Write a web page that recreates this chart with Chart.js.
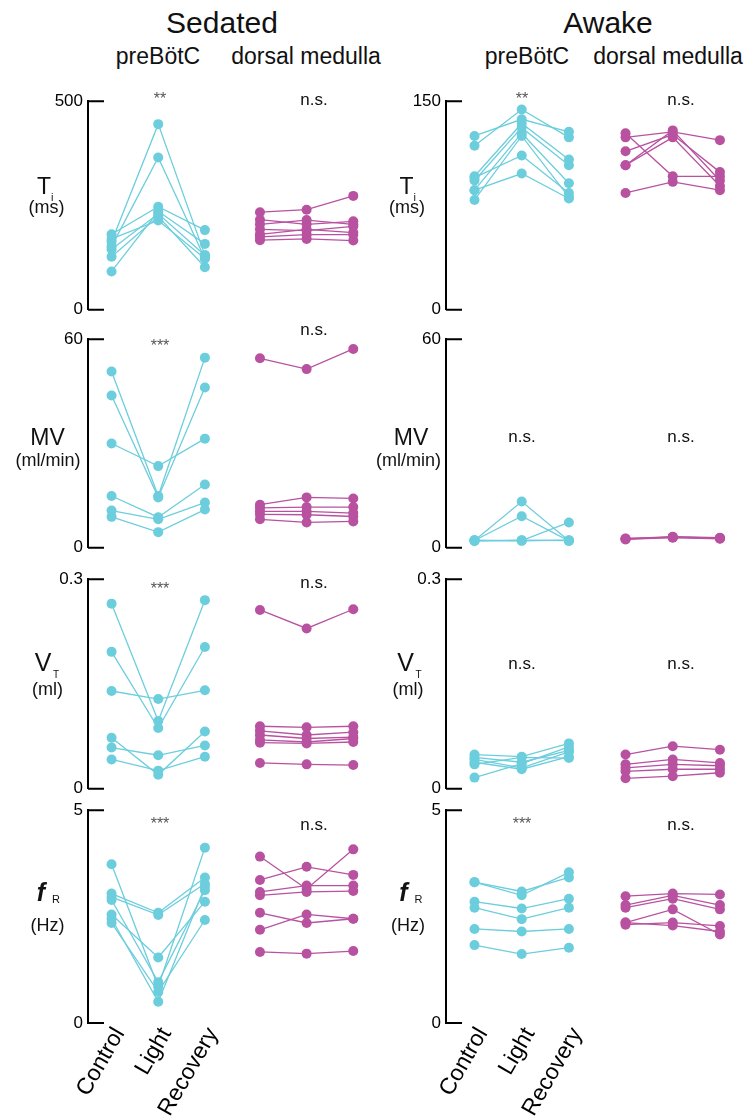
<!DOCTYPE html>
<html><head><meta charset="utf-8">
<script src="https://cdn.jsdelivr.net/npm/chart.js@4/dist/chart.umd.min.js"></script>
<style>
html,body{margin:0;padding:0;background:#fff;}
body{width:744px;height:1118px;position:relative;overflow:hidden;font-family:"Liberation Sans",Arial,Helvetica,sans-serif;}
.p{position:absolute;}
.t{position:absolute;white-space:nowrap;color:#111;}
</style></head><body>
<script>
// ---------- data ----------
const conditions = ['Control', 'Light', 'Recovery'];

// Sedated (one row per animal: Control, Light, Recovery)
const sedTiPre = [[163,445,131],[152,365,123],[92,236,158],[181,247,191],[127,224,102],[170,214,123],[145,230,131]];
const sedTiDm  = [[234,240,273],[216,205,212],[205,215,205],[193,190,200],[181,193,185],[175,180,180],[167,170,166]];
const sedMvPre = [[50.7,14.9,54.7],[43.8,14.5,46.1],[30.0,23.5,31.4],[14.9,8.8,18.2],[10.7,8.2,13.0],[8.9,4.5,11.0]];
const sedMvDm  = [[54.5,51.4,57.2],[12.4,14.5,14.2],[11.5,11.7,11.7],[10.5,10.5,10.0],[9.6,9.5,9.0],[8.2,7.3,7.6]];
const sedVtPre = [[0.265,0.097,0.270],[0.196,0.087,0.203],[0.140,0.1285,0.141],[0.073,0.020,0.082],[0.059,0.048,0.062],[0.042,0.026,0.046]];
const sedVtDm  = [[0.256,0.2295,0.257],[0.0895,0.088,0.0895],[0.083,0.077,0.081],[0.077,0.072,0.074],[0.070,0.067,0.072],[0.066,0.065,0.067],[0.037,0.035,0.034]];
const sedFrPre = [[3.73,0.85,4.12],[3.04,2.59,3.42],[2.96,2.54,3.27],[2.89,0.96,3.12],[2.55,1.54,2.85],[2.35,0.73,2.42],[2.45,0.50,3.20]];
const sedFrDm  = [[3.91,3.15,4.08],[3.36,3.67,3.48],[3.08,3.23,3.23],[3.00,3.08,3.10],[2.59,2.35,2.45],[2.19,2.55,2.45],[1.67,1.63,1.69]];

// Awake
const awkTiPre = [[125,137,128],[118,144,124],[96,134,108],[93,131,104],[86,127,91],[79,125,81],[95,111,84],[86,98,80]];
const awkTiDm  = [[127,96,96],[124,128,122],[114,126,99],[104,129,93],[104,124,89],[84,92,86]];
const awkMvPre = [[2.1,13.3,2.0],[2.1,9.1,2.0],[2.0,2.1,7.3],[2.2,2.0,2.2],[2.0,2.2,2.1]];
const awkMvDm  = [[2.5,3.1,2.8],[2.7,3.0,2.7],[2.4,2.9,2.6],[2.6,3.2,2.9]];
const awkVtPre = [[0.049,0.046,0.065],[0.045,0.038,0.055],[0.042,0.030,0.053],[0.035,0.045,0.044],[0.038,0.028,0.046],[0.016,0.036,0.060]];
const awkVtDm  = [[0.049,0.061,0.056],[0.035,0.042,0.037],[0.030,0.035,0.033],[0.025,0.028,0.028],[0.015,0.018,0.023]];
const awkFrPre = [[3.31,3.00,3.54],[3.31,3.09,3.42],[2.85,2.69,2.92],[2.71,2.44,2.71],[2.21,2.15,2.21],[1.83,1.62,1.77]];
const awkFrDm  = [[2.98,3.04,3.02],[2.77,3.00,2.77],[2.71,2.92,2.67],[2.36,2.67,2.08],[2.31,2.36,2.28],[2.36,2.29,2.15]];

// axis maxima (tick labels 0 and max)
const sedYMax = [500, 60, 0.3, 5];
const awkYMax = [150, 60, 0.3, 5];
const sedSig = ['**', '***', '***', '***'];
const sedSigDm = ['n.s.', 'n.s.', 'n.s.', 'n.s.'];
const awkSig = ['**', 'n.s.', 'n.s.', '***'];
const awkSigDm = ['n.s.', 'n.s.', 'n.s.', 'n.s.'];

// ---------- styling / layout ----------
const FONT = '"Liberation Sans", Arial, Helvetica, sans-serif';
const CYAN = 'rgb(108,206,221)';
const MAG = 'rgb(184,82,160)';
const rowTop = [98, 336, 576, 807];
const rowBot = [313, 551, 792, 1023];
const cols = [
  {left: 0, width: 372, yw: 88, xmin: -0.505, xmax: 5.474, dmX: [3.18, 4.18, 5.18]},
  {left: 372, width: 372, yw: 74, xmin: -0.604, xmax: 5.604, dmX: [3.2, 4.2, 5.2]}
];
const preX = [0, 1, 2];

const inwardTicks = {
  id: 'inwardTicks',
  beforeDatasetsDraw(c) {
    const {ctx, chartArea: a} = c;
    ctx.save();
    ctx.strokeStyle = '#000'; ctx.lineWidth = 2;
    ctx.beginPath();
    ctx.moveTo(a.left, a.top); ctx.lineTo(a.left + 16, a.top);
    ctx.moveTo(a.left, a.bottom); ctx.lineTo(a.left + 16, a.bottom);
    ctx.stroke();
    ctx.restore();
  }
};

function mk(rows, xs, color) {
  return rows.map(r => ({
    data: r.map((v, i) => ({x: xs[i], y: v})),
    borderColor: color, backgroundColor: color,
    pointBackgroundColor: color, pointBorderColor: color,
    pointRadius: 5, pointBorderWidth: 0, borderWidth: 1.3,
    clip: false, tension: 0, fill: false
  }));
}

function panel(colIdx, row, ymax, pre, dm) {
  const col = cols[colIdx];
  const isBottom = row === 3;
  const top = rowTop[row] - 12;
  const height = isBottom ? (1118 - top) : (rowBot[row] - rowTop[row] + 24);
  const cv = document.createElement('canvas');
  cv.className = 'p';
  cv.width = col.width; cv.height = height;
  cv.style.left = col.left + 'px'; cv.style.top = top + 'px';
  cv.style.width = col.width + 'px'; cv.style.height = height + 'px';
  document.body.appendChild(cv);
  new Chart(cv, {
    type: 'line',
    data: {datasets: [...mk(pre, preX, CYAN), ...mk(dm, col.dmX, MAG)]},
    options: {
      responsive: false, animation: false, maintainAspectRatio: false,
      layout: {padding: {top: 12, bottom: isBottom ? 0 : 12, left: 0, right: 0}},
      plugins: {legend: {display: false}, tooltip: {enabled: false}},
      scales: {
        x: {
          type: 'linear', min: col.xmin, max: col.xmax, display: isBottom,
          grid: {display: false, drawTicks: false}, border: {display: false},
          afterBuildTicks: s => { s.ticks = preX.map(v => ({value: v})); },
          afterFit: s => { s.height = isBottom ? (1118 - rowBot[3]) : 0; },
          ticks: {autoSkip: false, minRotation: 60, maxRotation: 60, padding: 0, labelOffset: 8, color: '#000',
                  font: {size: 23, family: FONT}, callback: v => conditions[v]}
        },
        y: {
          type: 'linear', min: 0, max: ymax,
          grid: {display: false, drawTicks: false},
          border: {display: true, color: '#000', width: 2},
          afterBuildTicks: s => { s.ticks = [{value: 0}, {value: ymax}]; },
          afterFit: s => { s.width = col.yw; },
          ticks: {padding: 5, color: '#000', font: {size: 17, family: FONT}, callback: v => String(v)}
        }
      }
    },
    plugins: [inwardTicks]
  });
}

function txt(s, x, base, size, align, extra) {
  const d = document.createElement('div');
  d.className = 't';
  d.textContent = s;
  d.style.fontSize = size + 'px';
  d.style.lineHeight = size + 'px';
  d.style.top = (base - 0.8465 * size) + 'px';
  d.style.left = x + 'px';
  if (align !== 'left') d.style.transform = 'translateX(-50%)';
  if (extra) for (const k in extra) d.style[k] = extra[k];
  document.body.appendChild(d);
}

// panels
const sedSets = [[sedTiPre, sedTiDm], [sedMvPre, sedMvDm], [sedVtPre, sedVtDm], [sedFrPre, sedFrDm]];
const awkSets = [[awkTiPre, awkTiDm], [awkMvPre, awkMvDm], [awkVtPre, awkVtDm], [awkFrPre, awkFrDm]];
for (let r = 0; r < 4; r++) {
  panel(0, r, sedYMax[r], sedSets[r][0], sedSets[r][1]);
  panel(1, r, awkYMax[r], awkSets[r][0], awkSets[r][1]);
}

// headers
txt('Sedated', 222, 33, 30);
txt('preBötC', 158, 64, 23);
txt('dorsal medulla', 306, 64, 23);
txt('Awake', 608, 33, 30);
txt('preBötC', 527, 64, 23);
txt('dorsal medulla', 668, 64, 23);

// significance labels
const sigBase = [105, 352, 595, 830];
const sigBaseDm = [105, 335, 588, 830];
const awkSigBase = [105, 442, 669, 830];
for (let r = 0; r < 4; r++) {
  const isStar = s => s.indexOf('*') >= 0;
  txt(sedSig[r], 160, sigBase[r], isStar(sedSig[r]) ? 16 : 17, 'center', isStar(sedSig[r]) ? {color: '#555'} : null);
  txt(sedSigDm[r], 314, sigBaseDm[r], 17);
  txt(awkSig[r], 522, awkSigBase[r], isStar(awkSig[r]) ? 16 : 17, 'center', isStar(awkSig[r]) ? {color: '#555'} : null);
  txt(awkSigDm[r], 681, awkSigBase[r], 17);
}

// y axis titles
[[0, 44, 47.5], [372, 406.5, 408]].forEach(([off, cx, ux]) => {
  // Ti
  txt('T', cx, 194, 23);
  txt('i', cx + 7, 201, 11, 'left');
  txt('(ms)', ux - 1, 213, 18);
  // MV
  txt('MV', off === 0 ? 47.5 : 411, 445, 23);
  txt('(ml/min)', off === 0 ? 48 : 408.5, 466, 18);
  // VT
  txt('V', cx - 1, 671, 25);
  txt('T', cx + 9, 678, 10, 'left');
  txt('(ml)', ux, 695, 18);
  // fR
  txt('f', cx - 3, 901, 25, 'center', {fontStyle: 'italic', fontWeight: 'bold'});
  txt('R', cx + 8, 903, 11, 'left');
  txt('(Hz)', ux, 931, 18);
});
</script>
</body></html>
